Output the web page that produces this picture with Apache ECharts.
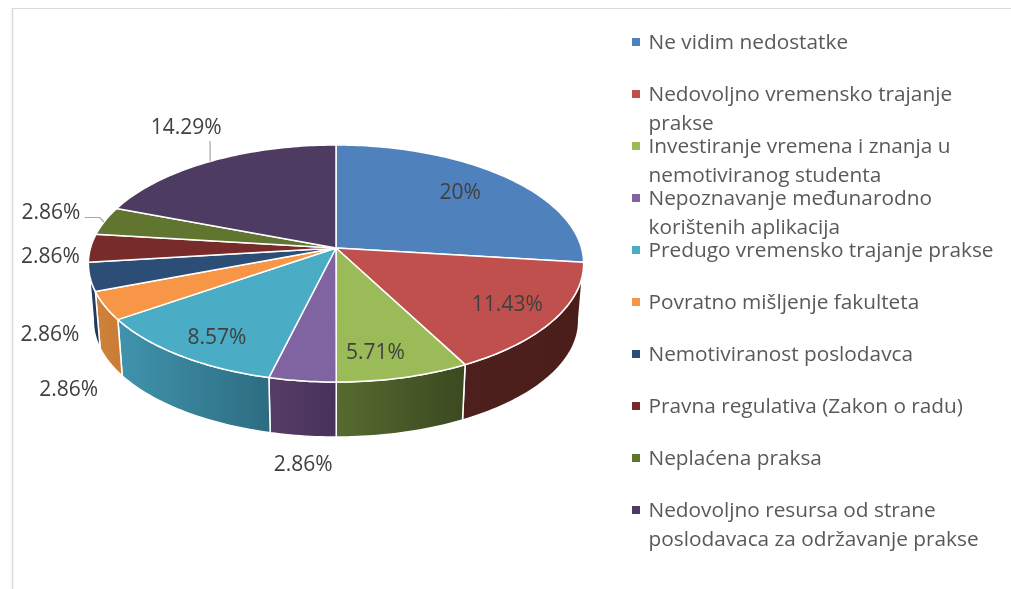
<!DOCTYPE html>
<html lang="hr">
<head>
    <meta charset="UTF-8">
    <title>Nedostaci prakse</title>
    <script src="https://cdn.jsdelivr.net/npm/echarts@6/dist/echarts.min.js"></script>
    <style>
        html,body{margin:0;padding:0;background:#fff;}
        #main{width:1011px;height:589px;}
    </style>
</head>
<body>
<div id="main"></div>
<script>
    // podaci
    var categories = [
        'Ne vidim nedostatke',
        'Nedovoljno vremensko trajanje\nprakse',
        'Investiranje vremena i znanja u\nnemotiviranog studenta',
        'Nepoznavanje međunarodno\nkorištenih aplikacija',
        'Predugo vremensko trajanje prakse',
        'Povratno mišljenje fakulteta',
        'Nemotiviranost poslodavca',
        'Pravna regulativa (Zakon o radu)',
        'Neplaćena praksa',
        'Nedovoljno resursa od strane\nposlodavaca za održavanje prakse'
    ];
    var values = [20, 11.43, 5.71, 2.86, 8.57, 2.86, 2.86, 2.86, 2.86, 14.29];
    var valueLabels = ['20%', '11.43%', '5.71%', '2.86%', '8.57%', '2.86%', '2.86%', '2.86%', '2.86%', '14.29%'];

    // boje
    var topColors = ['#4f81bd', '#c0504d', '#9bbb59', '#8064a2', '#4bacc6', '#f79646', '#2c4d75', '#772c2a', '#5f7530', '#4d3b62'];
    var wallLeft = ['#2f4d71', '#4e201d', '#566b30', '#573d66', '#4094ad', '#d0823a', '#264369', '#4e1d1b', '#3e4d20', '#32273f'];
    var wallRight = ['#2f4d71', '#4a1d1b', '#3b4920', '#46325a', '#2d6c80', '#c97c36', '#1d3553', '#4e1d1b', '#3e4d20', '#32273f'];

    // perspektiva diska
    var cx = 336, cy = 248, rx = 245.5, ry = 116.5, persp = 0.1308, depth = 57.7, bottomScale = 0.98;

    // pomak natpisa od sredine luka kriške
    var labelOffsets = [[-45, 16], [-47, -14], [-28, -25], [1, 84], [37, -17], [-36, 84], [-40, 58], [-40, 9], [-54, -8], [-24, -33]];
    var leaders = {
        8: [[-20, -3.5], [-5, -3.5], [-1, 1]],
        9: [[0, -20.5], [0, 0]]
    };

    var total = 0;
    for (var i = 0; i < values.length; i++) total += values[i];
    var starts = [], acc = 0;
    for (var i = 0; i < values.length; i++) {
        starts.push(acc / total * Math.PI * 2);
        acc += values[i];
    }

    function rim(a, low) {
        var x = Math.sin(a), z = Math.cos(a), w = 1 + persp * z;
        var px = rx * x / w, py = -ry * z / w;
        if (low) return [cx + px * bottomScale, cy + py * bottomScale + depth];
        return [cx + px, cy + py];
    }
    function arc(a0, a1, low) {
        var pts = [], n = Math.max(4, Math.ceil((a1 - a0) / 0.02));
        for (var k = 0; k <= n; k++) pts.push(rim(a0 + (a1 - a0) * k / n, low));
        return pts;
    }
    function sliceRange(v, idx) {
        var a0 = starts[idx];
        return [a0, a0 + v / total * Math.PI * 2];
    }

    function renderWall(params, api) {
        var idx = params.dataIndex;
        var r = sliceRange(api.value(0), idx);
        // straznji zid se ne vidi
        if (Math.cos((r[0] + r[1]) / 2) > -0.01) return null;
        var pts = arc(r[0], r[1], false).concat(arc(r[0], r[1], true).reverse());
        return {
            type: 'polygon',
            shape: {points: pts},
            style: {
                fill: new echarts.graphic.LinearGradient(0, 0, 1, 0, [
                    {offset: 0, color: wallLeft[idx]},
                    {offset: 1, color: wallRight[idx]}
                ]),
                stroke: '#fff',
                lineWidth: 1.5
            }
        };
    }
    function renderTop(params, api) {
        var idx = params.dataIndex;
        var r = sliceRange(api.value(0), idx);
        var pts = [[cx, cy]].concat(arc(r[0], r[1], false));
        return {
            type: 'polygon',
            shape: {points: pts},
            style: {fill: topColors[idx], stroke: '#fff', lineWidth: 1.5, lineJoin: 'round'}
        };
    }
    function renderLabel(params, api) {
        var idx = params.dataIndex;
        var r = sliceRange(api.value(0), idx);
        var p = rim((r[0] + r[1]) / 2, false);
        var off = labelOffsets[idx];
        var children = [{
            type: 'text',
            style: {
                x: p[0] + off[0], y: p[1] + off[1],
                text: valueLabels[idx],
                fill: '#404040',
                font: '21px "Open Sans"',
                align: 'center', verticalAlign: 'middle'
            }
        }];
        if (leaders[idx]) {
            var line = [];
            for (var k = 0; k < leaders[idx].length; k++) line.push([p[0] + leaders[idx][k][0], p[1] + leaders[idx][k][1]]);
            children.push({
                type: 'polyline',
                shape: {points: line},
                style: {fill: 'none', stroke: '#a6a6a6', lineWidth: 1.2}
            });
        }
        return {type: 'group', children: children};
    }

    // legenda
    var legendGraphic = [
        {type: 'line', shape: {x1: 12, y1: 8.5, x2: 1011, y2: 8.5}, style: {stroke: '#d9d9d9', lineWidth: 1}},
        {type: 'line', shape: {x1: 12.5, y1: 8, x2: 12.5, y2: 589}, style: {stroke: '#d9d9d9', lineWidth: 1.5}}
    ];
    for (var i = 0; i < categories.length; i++) {
        var ly = 42 + i * 52;
        legendGraphic.push({
            type: 'rect',
            shape: {x: 632, y: ly - 4, width: 8, height: 8},
            style: {fill: topColors[i]}
        });
        legendGraphic.push({
            type: 'text',
            style: {
                x: 648.5, y: ly - 14,
                text: categories[i],
                fill: '#595959',
                font: '20.8px "Open Sans"',
                lineHeight: 29.5,
                align: 'left', verticalAlign: 'top'
            }
        });
    }

    var myChart = echarts.init(document.getElementById('main'));
    myChart.setOption({
        animation: false,
        graphic: legendGraphic,
        series: [
            {type: 'custom', coordinateSystem: 'none', renderItem: renderWall, data: values, z: 1, silent: true},
            {type: 'custom', coordinateSystem: 'none', renderItem: renderTop, data: values, z: 2, silent: true},
            {type: 'custom', coordinateSystem: 'none', renderItem: renderLabel, data: values, z: 3, silent: true}
        ]
    });
</script>
</body>
</html>
